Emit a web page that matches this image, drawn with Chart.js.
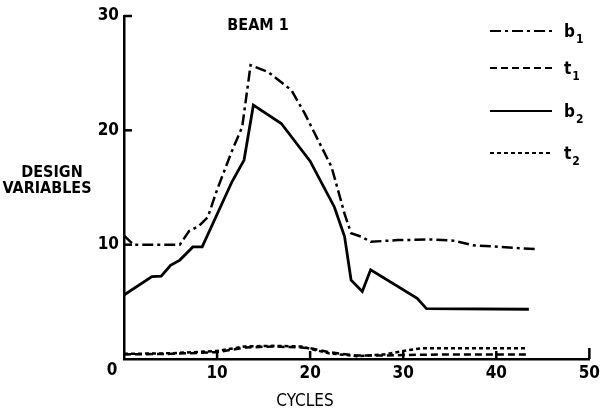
<!DOCTYPE html>
<html>
<head>
<meta charset="utf-8">
<script src="https://cdn.jsdelivr.net/npm/chart.js@4.4.0/dist/chart.umd.min.js"></script>
<style>
  html, body { margin: 0; padding: 0; background: #fff; }
  #wrap { width: 604px; height: 415px; }
</style>
</head>
<body>
<div id="wrap"><canvas id="beamChart"></canvas></div>
<script>
// Values (cycles vs design variables)
const b1Cycles = [0, 1, 6, 7, 8, 9, 10, 11.6, 12.7, 13.6, 15.5, 18, 19.4, 22.3, 23.7, 24.4, 25.5, 26.5, 29.4, 33, 35.4, 37.5, 44.4];
const b1Values = [10.8, 10, 10, 11.2, 11.6, 12.4, 14.8, 18.2, 20.3, 25.7, 25.1, 23.5, 21.5, 16.8, 12.7, 11.0, 10.7, 10.25, 10.4, 10.45, 10.35, 9.95, 9.6];

const b2Cycles = [0, 3, 4, 5, 6, 7.4, 8.4, 11.6, 12.9, 13.9, 16.9, 20, 22.6, 23.7, 24.4, 25.6, 26.5, 31.5, 32.5, 43.5];
const b2Values = [5.6, 7.2, 7.25, 8.2, 8.65, 9.8, 9.8, 15.5, 17.4, 22.2, 20.6, 17.3, 13.3, 10.7, 6.9, 5.9, 7.8, 5.3, 4.4, 4.35];

const t1Cycles = [0, 5, 10, 13, 16, 19, 20, 22, 25, 28, 30, 35, 43.2];
const t1Values = [0.4, 0.45, 0.6, 1.0, 1.1, 1.0, 0.95, 0.6, 0.3, 0.3, 0.35, 0.4, 0.4];

const t2Cycles = [0, 5, 10, 13, 16, 19, 20, 22, 25, 28, 30, 32, 43.2];
const t2Values = [0.45, 0.5, 0.7, 1.1, 1.15, 1.1, 0.9, 0.5, 0.25, 0.4, 0.7, 0.95, 0.95];

const xTicks = [0, 10, 20, 30, 40, 50];
const yTicks = [0, 10, 20, 30];
const seriesLabels = ["b1", "t1", "b2", "t2"];

const FONT = "'Liberation Sans Narrow', 'DejaVu Sans Condensed', 'Liberation Sans', sans-serif";

function pairs(xs, ys) {
  return xs.map((x, i) => ({ x: x, y: ys[i] }));
}

// inward ticks, labels and the hand-drawn style legend
const annotate = {
  id: "annotate",
  afterDraw(chart) {
    const ctx = chart.ctx;
    const xs = chart.scales.x;
    const ys = chart.scales.y;
    const x0 = xs.getPixelForValue(0);
    const y0 = ys.getPixelForValue(0);

    ctx.save();
    ctx.strokeStyle = "#000";
    ctx.lineWidth = 2.5;
    xTicks.slice(1).forEach((v) => {
      const px = xs.getPixelForValue(v);
      ctx.beginPath();
      ctx.moveTo(px, y0);
      ctx.lineTo(px, y0 - (v === 50 ? 11 : 8));
      ctx.stroke();
    });
    yTicks.slice(1).forEach((v) => {
      const py = ys.getPixelForValue(v);
      ctx.beginPath();
      ctx.moveTo(x0, py);
      ctx.lineTo(x0 + 8, py);
      ctx.stroke();
    });

    ctx.fillStyle = "#000";
    ctx.textAlign = "center";
    ctx.textBaseline = "middle";
    ctx.font = "bold 17px " + FONT;
    ctx.fillText("0", 112, 371);
    ctx.font = "bold 16px " + FONT;
    ctx.fillText("BEAM 1", 258, 26);
    ctx.font = "bold 16px " + FONT;
    ctx.fillText("DESIGN", 52, 173);
    ctx.fillText("VARIABLES", 47, 189);
    ctx.font = "17px " + FONT;
    ctx.fillText("CYCLES", 305, 402);

    // legend
    const rows = [31, 68, 111, 153];
    chart.data.datasets.forEach((ds, i) => {
      const y = rows[i];
      ctx.save();
      ctx.lineWidth = 2.2;
      ctx.setLineDash(ds.borderDash || []);
      ctx.beginPath();
      ctx.moveTo(490, y);
      ctx.lineTo(552, y);
      ctx.stroke();
      ctx.restore();
      ctx.textAlign = "left";
      ctx.textBaseline = "alphabetic";
      ctx.font = "bold 17px " + FONT;
      const name = ds.label;
      ctx.fillText(name[0], 564, y + 6);
      const w = ctx.measureText(name[0]).width;
      ctx.font = "bold 12px " + FONT;
      ctx.fillText(name.slice(1), 564 + w + 1, y + 12);
    });
    ctx.restore();
  },
};

new Chart(document.getElementById("beamChart"), {
  type: "line",
  data: {
    datasets: [
      {
        label: seriesLabels[0],
        data: pairs(b1Cycles, b1Values),
        borderColor: "#000",
        borderWidth: 2.5,
        borderDash: [11, 4, 3, 4],
        pointRadius: 0,
        tension: 0,
      },
      {
        label: seriesLabels[1],
        data: pairs(t1Cycles, t1Values),
        borderColor: "#000",
        borderWidth: 2.5,
        borderDash: [7, 4],
        pointRadius: 0,
      },
      {
        label: seriesLabels[2],
        data: pairs(b2Cycles, b2Values),
        borderColor: "#000",
        borderWidth: 2.8,
        pointRadius: 0,
      },
      {
        label: seriesLabels[3],
        data: pairs(t2Cycles, t2Values),
        borderColor: "#000",
        borderWidth: 2.5,
        borderDash: [4, 3],
        pointRadius: 0,
      },
    ],
  },
  options: {
    responsive: true,
    maintainAspectRatio: false,
    animation: false,
    layout: { padding: { top: 16, right: 9, left: 0, bottom: 0 } },
    plugins: {
      legend: { display: false },
      tooltip: { enabled: false },
    },
    scales: {
      x: {
        type: "linear",
        min: 0,
        max: 50,
        afterFit: (s) => { s.height = 56; },
        afterBuildTicks: (s) => { s.ticks = xTicks.map((v) => ({ value: v })); },
        ticks: {
          color: "#000",
          padding: 4,
          font: { family: FONT, size: 17, weight: "bold" },
          callback: (v) => (v === 0 ? "" : v),
          maxRotation: 0,
        },
        grid: { drawOnChartArea: false, drawTicks: false },
        border: { color: "#000", width: 2.5 },
      },
      y: {
        min: 0,
        max: 30,
        afterFit: (s) => { s.width = 124; },
        afterBuildTicks: (s) => { s.ticks = yTicks.map((v) => ({ value: v })); },
        ticks: {
          color: "#000",
          padding: 5,
          font: { family: FONT, size: 17, weight: "bold" },
          callback: (v) => (v === 0 ? "" : v),
        },
        grid: { drawOnChartArea: false, drawTicks: false },
        border: { color: "#000", width: 2.5 },
      },
    },
  },
  plugins: [annotate],
});
</script>
</body>
</html>
